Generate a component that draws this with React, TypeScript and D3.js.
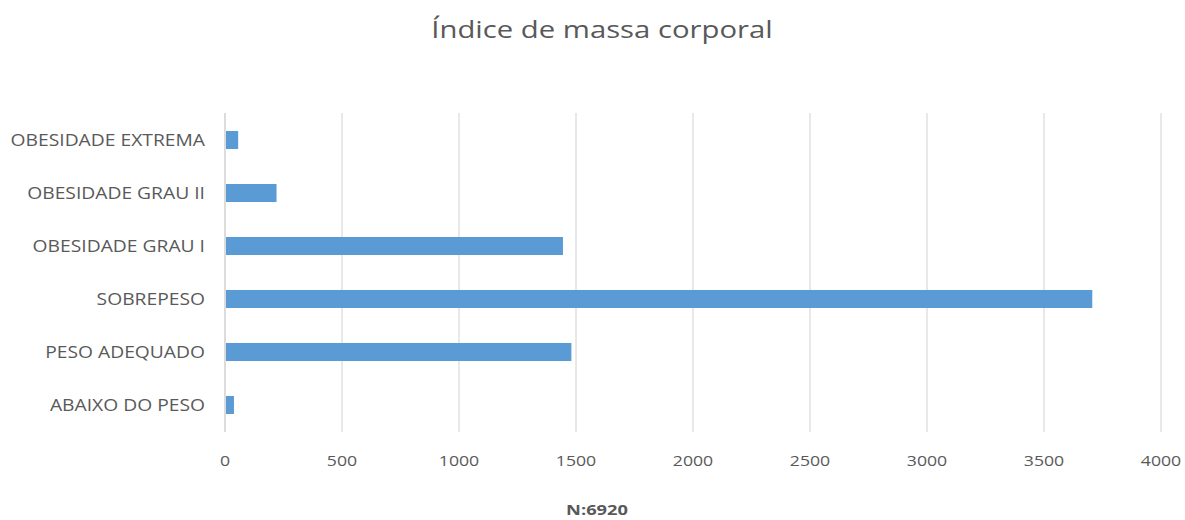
import React from "react";
import * as d3 from "d3";

const categories = [
  "OBESIDADE EXTREMA",
  "OBESIDADE GRAU II",
  "OBESIDADE GRAU I",
  "SOBREPESO",
  "PESO ADEQUADO",
  "ABAIXO DO PESO",
];
const values = [52, 216, 1440, 3702, 1476, 34];
const xTicks = [0, 500, 1000, 1500, 2000, 2500, 3000, 3500, 4000];
const title = "Índice de massa corporal";
const footnote = "N:6920";

const SX = 1.22;

function T(props: { x: number; y: number; children: React.ReactNode; [k: string]: any }) {
  const { x, y, children, ...rest } = props;
  return (
    <text transform={`translate(${x},${y}) scale(${SX},1)`} {...rest}>
      {children}
    </text>
  );
}

export default function App() {
  const W = 1185;
  const H = 520;
  const x = d3.scaleLinear().domain([0, 4000]).range([225, 1161]);
  const y = d3.scaleBand().domain(categories).range([113.5, 431.5]).paddingInner(0.66).paddingOuter(0.33);
  const font = "'Open Sans', 'Noto Sans', sans-serif";
  const grey = "#595959";
  return (
    <svg width={W} height={H} style={{ position: "absolute", left: 0, top: 0, background: "#fff" }} fontFamily={font}>
      <T x={602} y={38} textAnchor="middle" fontSize={24} fill={grey}>{title}</T>
      {xTicks.map((t) => (
        <g key={t}>
          <line x1={x(t)} x2={x(t)} y1={113} y2={432} stroke={t === 0 ? "#d0d0d0" : "#e0e0e0"} strokeWidth={1.5} />
          <T x={x(t)} y={466} textAnchor="middle" fontSize={14.5} fill={grey}>{t}</T>
        </g>
      ))}
      {categories.map((c, i) => (
        <g key={c}>
          <rect x={x(0) + 1} y={y(c)!} width={x(values[i]) - x(0)} height={y.bandwidth()} fill="#5b9bd5" />
          <T x={205} y={y(c)! + y.bandwidth() / 2} dy="0.35em" textAnchor="end" fontSize={15.8} fill={grey}>{c}</T>
        </g>
      ))}
      <T x={597} y={515} textAnchor="middle" fontSize={15} fontWeight="bold" fill={grey}>{footnote}</T>
    </svg>
  );
}
